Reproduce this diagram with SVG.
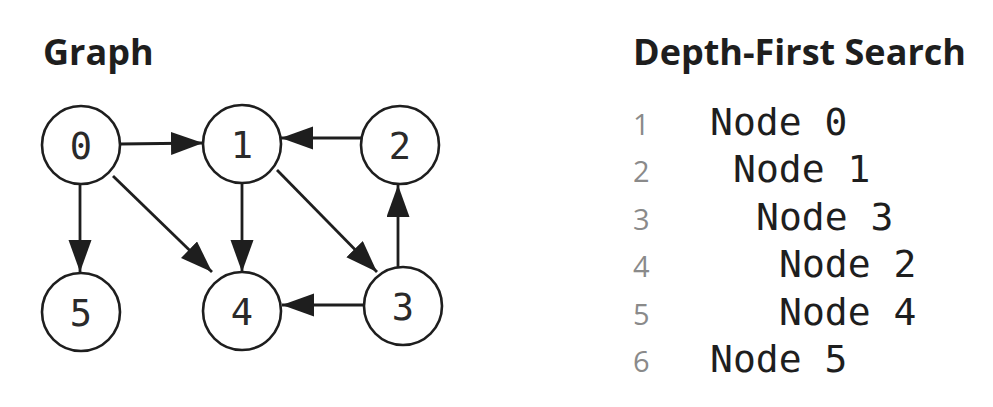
<svg xmlns="http://www.w3.org/2000/svg" width="993" height="407" viewBox="0 0 993 407">
<style>
.title{font-family:"Open Sans","Liberation Sans",sans-serif;font-weight:700;font-size:36px;fill:#1e1e1e}
.node circle{fill:#fff;stroke:#1e1e1e;stroke-width:2.6}
.node text{font-family:"DejaVu Sans Mono","Liberation Mono",monospace;font-size:37px;fill:#2a2a2a;text-anchor:middle}
.edge{stroke:#1e1e1e;stroke-width:2.8;fill:none;marker-end:url(#arr)}
.num{font-family:"Open Sans","Liberation Sans",sans-serif;font-size:29px;fill:#8a8a8a}
.line{font-family:"DejaVu Sans Mono","Liberation Mono",monospace;font-size:38px;fill:#1e1e1e;white-space:pre}
</style>
<defs>
<marker id="arr" markerUnits="userSpaceOnUse" markerWidth="33" markerHeight="25" refX="32" refY="11.5" orient="auto">
<path d="M0,0 L32,11.5 L0,23 Z" fill="#1e1e1e"/>
</marker>
</defs>
<rect width="993" height="407" fill="#fff"/>
<text class="title" x="43" y="65">Graph</text>
<text class="title" x="633" y="65">Depth-First Search</text>
<g id="connectors">
<line class="edge" x1="120" y1="144" x2="203" y2="143"/>
<line class="edge" x1="361" y1="138" x2="281" y2="138"/>
<line class="edge" x1="80" y1="184" x2="80" y2="272"/>
<line class="edge" x1="113" y1="176" x2="212" y2="272"/>
<line class="edge" x1="242" y1="183" x2="242" y2="272"/>
<line class="edge" x1="277" y1="170" x2="377" y2="272"/>
<line class="edge" x1="398" y1="267" x2="398" y2="185"/>
<line class="edge" x1="364" y1="305" x2="282" y2="305"/>
</g>
<g id="node0" class="node"><circle cx="81" cy="145" r="39"/><text x="81" y="159">0</text></g>
<g id="node1" class="node"><circle cx="242" cy="144" r="39"/><text x="242" y="158">1</text></g>
<g id="node2" class="node"><circle cx="400" cy="145" r="39"/><text x="400" y="159">2</text></g>
<g id="node3" class="node"><circle cx="403" cy="306" r="39"/><text x="403" y="320">3</text></g>
<g id="node4" class="node"><circle cx="242" cy="311" r="39"/><text x="242" y="325">4</text></g>
<g id="node5" class="node"><circle cx="81" cy="312" r="39"/><text x="81" y="326">5</text></g>
<g id="dfs">
<text class="num" x="633" y="135">1</text>
<text class="num" x="633" y="182">2</text>
<text class="num" x="633" y="230">3</text>
<text class="num" x="633" y="277">4</text>
<text class="num" x="633" y="325">5</text>
<text class="num" x="633" y="372">6</text>
<text class="line" x="710" y="135">Node 0</text>
<text class="line" x="733" y="182">Node 1</text>
<text class="line" x="756" y="230">Node 3</text>
<text class="line" x="779" y="277">Node 2</text>
<text class="line" x="779" y="325">Node 4</text>
<text class="line" x="710" y="372">Node 5</text>
</g>
</svg>
